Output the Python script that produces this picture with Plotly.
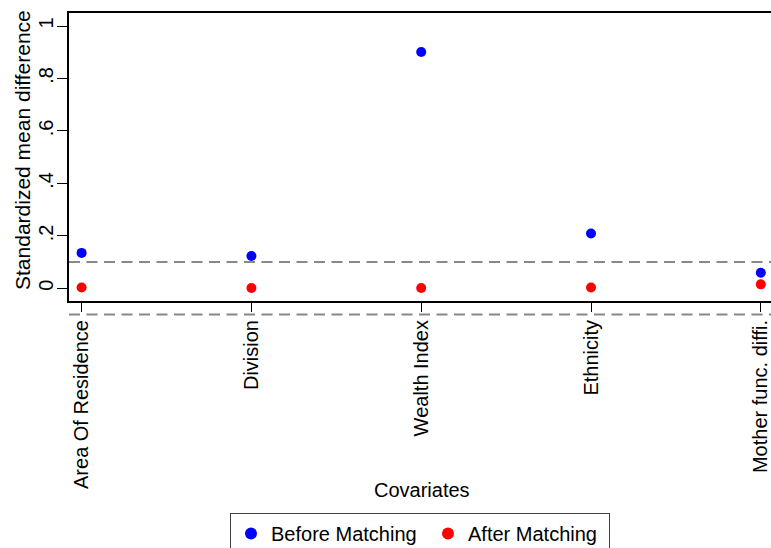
import plotly.graph_objects as go

covariates = ["Area Of Residence", "Division", "Wealth Index", "Ethnicity", "Mother func. diffi."]
before_matching = [0.135, 0.123, 0.901, 0.209, 0.059]
after_matching = [0.003, 0.001, 0.001, 0.003, 0.015]
thresholds = [0.1, -0.1]
y_tick_vals = [0, 0.2, 0.4, 0.6, 0.8, 1.0]
y_tick_text = ["0", ".2", ".4", ".6", ".8", "1"]

FONT = "Liberation Sans, Arial, sans-serif"
Y_RANGE = [-0.0484, 1.0496]
X_RANGE = [-0.0743, 4.06]

x_idx = list(range(len(covariates)))

fig = go.Figure()
fig.add_trace(go.Scatter(x=x_idx, y=before_matching, mode="markers", name="Before Matching",
                         marker=dict(color="#0000ff", size=10), cliponaxis=False,
                         legendwidth=152))
fig.add_trace(go.Scatter(x=x_idx, y=after_matching, mode="markers", name="After Matching",
                         marker=dict(color="#ff0000", size=10), cliponaxis=False,
                         legendwidth=136))

for t in thresholds:
    py = (t - Y_RANGE[0]) / (Y_RANGE[1] - Y_RANGE[0])
    fig.add_shape(type="line", xref="paper", yref="paper", x0=0, x1=1, y0=py, y1=py,
                  line=dict(color="#888888", width=2, dash="11px,6.5px"), layer="above")

fig.update_layout(
    width=771, height=548,
    margin=dict(l=69, r=0, t=13, b=247, autoexpand=False),
    paper_bgcolor="white", plot_bgcolor="white",
    font=dict(family=FONT, size=20, color="black"),
    showlegend=True,
    legend=dict(orientation="h", xref="container", yref="container",
                x=230 / 771, y=1 - 513 / 548, xanchor="left", yanchor="top",
                bordercolor="#404040", borderwidth=1, bgcolor="white",
                font=dict(family=FONT, size=20, color="black"),
                itemsizing="constant", tracegroupgap=0),
)

fig.update_xaxes(
    range=X_RANGE, tickmode="array", tickvals=x_idx, ticktext=covariates,
    tickangle=-90, ticks="outside", ticklen=9, tickwidth=1, tickcolor="black",
    showline=True, linecolor="black", linewidth=2, mirror=True,
    showgrid=False, zeroline=False, automargin=False, ticklabeloverflow="allow",
    tickfont=dict(family=FONT, size=20, color="black"),
)
fig.update_yaxes(
    range=Y_RANGE, tickmode="array", tickvals=y_tick_vals, ticktext=y_tick_text,
    tickangle=-90, ticks="outside", ticklen=10, tickwidth=1, tickcolor="black",
    showline=True, linecolor="black", linewidth=2, mirror=False,
    showgrid=False, zeroline=False, automargin=False, ticklabelstandoff=-4,
    ticklabeloverflow="allow",
    tickfont=dict(family=FONT, size=20, color="black"),
)

fig.add_annotation(text="Standardized mean difference", xref="paper", yref="paper",
                   x=-69 / 702 + 22 / 702, y=(301 - 150) / 288, textangle=-90,
                   showarrow=False, xanchor="center", yanchor="middle",
                   font=dict(family=FONT, size=21, color="black"))
fig.add_annotation(text="Covariates", xref="paper", yref="paper",
                   x=(422 - 69) / 702, y=(301 - 490) / 288,
                   showarrow=False, xanchor="center", yanchor="middle",
                   font=dict(family=FONT, size=20, color="black"))

fig.write_html("out.html", config={"displayModeBar": False},
               post_script="document.body.style.margin='0';")
